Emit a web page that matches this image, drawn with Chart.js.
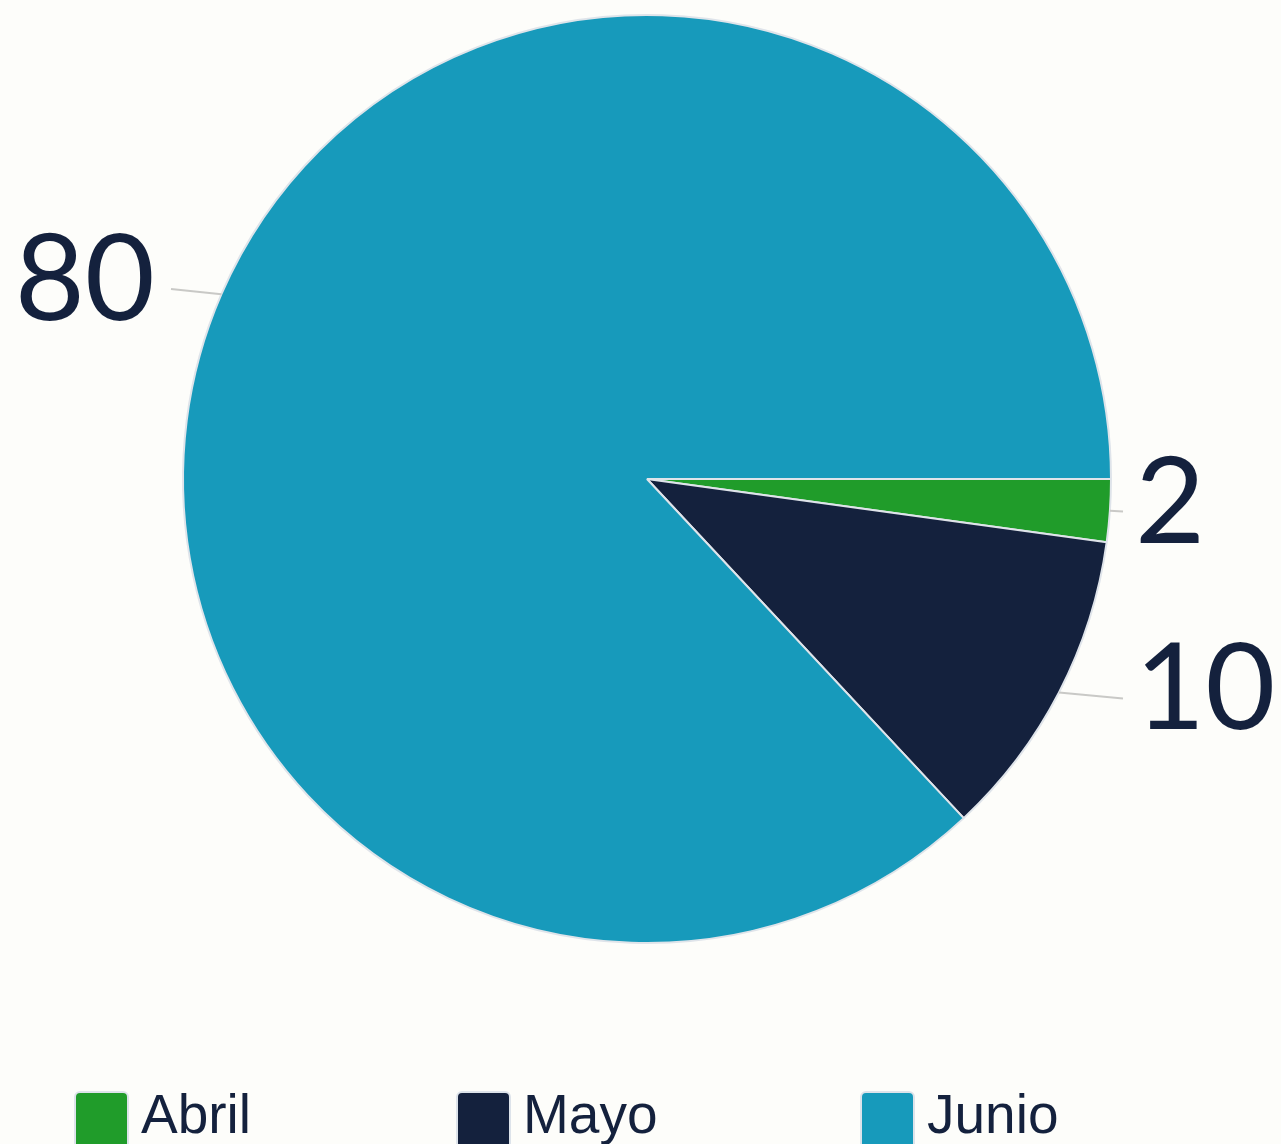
<!DOCTYPE html>
<html>
<head>
<meta charset="utf-8">
<script src="https://cdn.jsdelivr.net/npm/chart.js@4/dist/chart.umd.min.js"></script>
<style>
  html, body { margin: 0; padding: 0; background: #fdfdfa; overflow: hidden; }
  #wrap { width: 1281px; height: 1144px; }
</style>
</head>
<body>
<div id="wrap"><canvas id="pieChart" width="1281" height="1144"></canvas></div>
<script>
// datos del gráfico
const meses = ["Abril", "Mayo", "Junio"];
const valores = [2, 10, 80];
const colores = ["#209c2a", "#14213d", "#179abb"];

const textColor = "#14213d";

// etiquetas exteriores con línea guía
const outerLabels = {
    id: "outerLabels",
    afterDatasetsDraw(chart) {
        const ctx = chart.ctx;
        const meta = chart.getDatasetMeta(0);
        ctx.save();
        meta.data.forEach((arc, i) => {
            const r = arc.outerRadius;
            const mid = (arc.startAngle + arc.endAngle) / 2;
            const cos = Math.cos(mid), sin = Math.sin(mid);
            const x0 = arc.x + r * cos, y0 = arc.y + r * sin;
            const side = cos >= 0 ? 1 : -1;
            const x1 = arc.x + side * (r + 12);
            const y1 = arc.y + (r + 13) * sin;
            ctx.strokeStyle = "#c9c9c6";
            ctx.lineWidth = 2;
            ctx.beginPath();
            ctx.moveTo(x0, y0);
            ctx.lineTo(x1, y1);
            ctx.stroke();
            ctx.fillStyle = textColor;
            ctx.font = "121px Lato, 'Noto Sans', sans-serif";
            ctx.textBaseline = "middle";
            ctx.textAlign = side > 0 ? "left" : "right";
            ctx.fillText(String(valores[i]), x1 + (side > 0 ? 12 : -16), y1 - 8);
        });
        ctx.restore();
    }
};

// leyenda inferior
const bottomLegend = {
    id: "bottomLegend",
    afterDraw(chart) {
        const ctx = chart.ctx;
        const xs = [75, 457, 861];
        ctx.save();
        meses.forEach((m, i) => {
            ctx.fillStyle = colores[i];
            ctx.strokeStyle = "#dde3ea";
            ctx.lineWidth = 2;
            ctx.beginPath();
            ctx.roundRect(xs[i], 1092, 53, 70, 5);
            ctx.fill();
            ctx.stroke();
            ctx.fillStyle = textColor;
            ctx.font = "55px 'Liberation Sans Narrow', 'Liberation Sans', sans-serif";
            ctx.textBaseline = "alphabetic";
            ctx.textAlign = "left";
            ctx.fillText(m, xs[i] + 66, 1133);
        });
        ctx.restore();
    }
};

new Chart(document.getElementById("pieChart"), {
    type: "pie",
    data: {
        labels: meses,
        datasets: [{
            data: valores,
            backgroundColor: colores,
            borderColor: "#dfe4ea",
            borderWidth: 2
        }]
    },
    options: {
        responsive: false,
        animation: false,
        rotation: 90,
        layout: { padding: { top: 14, left: 20, right: 7, bottom: 200 } },
        plugins: {
            legend: { display: false },
            tooltip: { enabled: false }
        }
    },
    plugins: [outerLabels, bottomLegend]
});
</script>
</body>
</html>
